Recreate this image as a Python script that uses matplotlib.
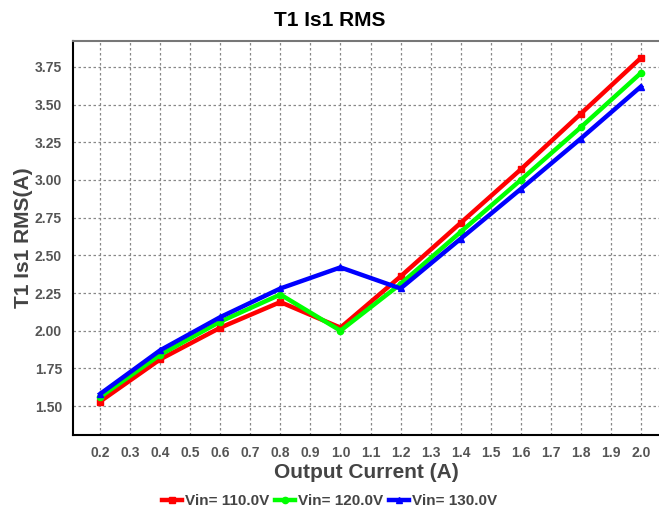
import matplotlib
matplotlib.use("Agg")
import matplotlib.pyplot as plt
import numpy as np

current = [0.2, 0.4, 0.6, 0.8, 1.0, 1.2, 1.4, 1.6, 1.8, 2.0]
vin_110 = [1.53, 1.81, 2.02, 2.19, 2.02, 2.36, 2.715, 3.07, 3.44, 3.81]
vin_120 = [1.56, 1.84, 2.06, 2.24, 2.00, 2.31, 2.655, 3.00, 3.35, 3.71]
vin_130 = [1.58, 1.87, 2.09, 2.28, 2.42, 2.28, 2.61, 2.94, 3.275, 3.62]
series_labels = ["Vin= 110.0V", "Vin= 120.0V", "Vin= 130.0V"]
x_ticks = [0.2, 0.3, 0.4, 0.5, 0.6, 0.7, 0.8, 0.9, 1.0, 1.1, 1.2, 1.3, 1.4, 1.5, 1.6, 1.7, 1.8, 1.9, 2.0]
y_ticks = [1.50, 1.75, 2.00, 2.25, 2.50, 2.75, 3.00, 3.25, 3.50, 3.75]

plt.rcParams['font.family'] = ['Liberation Sans', 'DejaVu Sans']

fig = plt.figure(figsize=(6.59, 5.11), dpi=100)
ax = fig.add_axes([73/659, 1-435/511, 1-73/659, (435-41)/511])

colors = ["#ff0000", "#00ff00", "#0000ff"]
markers = ["s", "o", "^"]
for ys, c, m, lab in zip([vin_110, vin_120, vin_130], colors, markers, series_labels):
    ax.plot(current, ys, color=c, lw=3.2, marker=m, markersize=4.5, label=lab,
            solid_joinstyle='miter')

ax.set_xlim(0.11, 2.06)
ax.set_ylim(1.308, 3.922)
ax.set_xticks(x_ticks)
ax.set_xticklabels([f"{v:.1f}" for v in x_ticks])
ax.set_yticks(y_ticks)
ax.set_yticklabels([f"{v:.2f}" for v in y_ticks])
ax.tick_params(axis='both', length=0, labelsize=10, labelcolor="#555555", pad=8)
for lbl in ax.get_xticklabels() + ax.get_yticklabels():
    lbl.set_fontweight('bold')

ax.grid(True, color="#888888", linestyle=(0, (2, 2)), linewidth=0.9)
ax.set_axisbelow(True)

ax.spines['left'].set_color('black')
ax.spines['left'].set_linewidth(1.5)
ax.spines['bottom'].set_color('black')
ax.spines['bottom'].set_linewidth(1.5)
ax.spines['top'].set_color('#777777')
ax.spines['top'].set_linewidth(1.5)
ax.spines['right'].set_visible(False)

ax.set_xlabel("Output Current (A)", fontsize=15, fontweight='bold', color="#444444", labelpad=2)
ax.set_ylabel("T1 Is1 RMS(A)", fontsize=15, fontweight='bold', color="#444444", labelpad=1)
fig.text(0.5, 1-20/511, "T1 Is1 RMS", ha='center', va='center', fontsize=15,
         fontweight='bold', color='black')

leg = fig.legend(loc='lower center', bbox_to_anchor=(0.5, -0.022), ncol=3, frameon=False,
                 handlelength=1.3, handletextpad=0.2, columnspacing=0.4,
                 prop={'weight': 'bold', 'size': 11})
for t in leg.get_texts():
    t.set_color("#444444")

fig.savefig("out.png", dpi=100)
